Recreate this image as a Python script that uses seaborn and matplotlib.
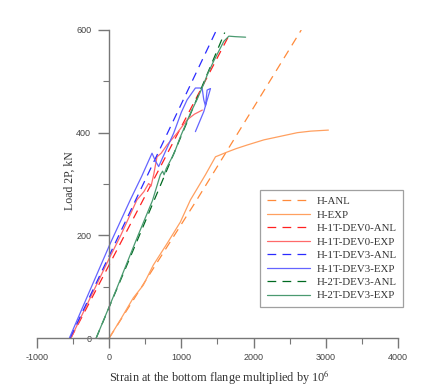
import matplotlib
matplotlib.use("Agg")
import matplotlib.pyplot as plt
import seaborn as sns
import pandas as pd
from matplotlib.ticker import MultipleLocator

# ---- data ----
h_anl_x = [0, 1200, 2660]
h_anl_y = [0, 266, 600]

h_exp_x = [0, 153, 333, 472, 611, 806, 986, 1125, 1333, 1472, 1560, 1611, 1760, 1912, 2143, 2375, 2606, 2792, 3036]
h_exp_y = [0, 35, 78, 103, 142, 185, 226, 269, 318, 353, 358, 361, 369, 376, 386, 393, 400, 403, 405]

dev0_anl_x = [-530, 1680]
dev0_anl_y = [0, 595]

dev0_exp_x = [-530, 0, 160, 384, 480, 546, 580, 616, 662, 720, 801, 940, 1079, 1180, 1290]
dev0_exp_y = [0, 155, 200, 269, 285, 301, 296, 318, 353, 360, 376, 399, 425, 436, 444]

dev3_anl_x = [-542, 1486]
dev3_anl_y = [0, 600]

dev3_exp_x = [-551, -300, 14, 292, 450, 593, 640, 685, 800, 893, 1000, 1079, 1194, 1287, 1310, 1333, 1356, 1403, 1310, 1194]
dev3_exp_y = [0, 82, 184, 269, 315, 360, 345, 334, 370, 399, 440, 464, 487, 487, 464, 452, 483, 486, 441, 402]

t2_anl_x = [-180, 1600]
t2_anl_y = [0, 595]

t2_exp_x = [-180, 100, 400, 600, 708, 740, 760, 790, 900, 986, 1125, 1218, 1310, 1356, 1449, 1588, 1657, 1750, 1889]
t2_exp_y = [0, 95, 200, 268, 318, 325, 318, 330, 360, 392, 438, 465, 495, 512, 540, 578, 588, 587, 586]

labels = ["H-ANL", "H-EXP", "H-1T-DEV0-ANL", "H-1T-DEV0-EXP",
          "H-1T-DEV3-ANL", "H-1T-DEV3-EXP", "H-2T-DEV3-ANL", "H-2T-DEV3-EXP"]
series = [(h_anl_x, h_anl_y), (h_exp_x, h_exp_y), (dev0_anl_x, dev0_anl_y), (dev0_exp_x, dev0_exp_y),
          (dev3_anl_x, dev3_anl_y), (dev3_exp_x, dev3_exp_y), (t2_anl_x, t2_anl_y), (t2_exp_x, t2_exp_y)]
colors = ["#ff8a3a", "#ffa060", "#ff2020", "#ff6a6a", "#2a2aff", "#6464ff", "#006a20", "#4a9a70"]
dashed = [True, False, True, False, True, False, True, False]

sns.set_style("white")
plt.rcParams["font.family"] = ["Liberation Serif", "DejaVu Serif"]
plt.rcParams["mathtext.fontset"] = "stix"
plt.rcParams["axes.unicode_minus"] = False

fig = plt.figure(figsize=(4.21, 3.88), dpi=100)
ax = fig.add_axes([37 / 421, 1 - 338 / 388, (398 - 37) / 421, (338 - 30) / 388])

for (xs, ys), lab, c, d in zip(series, labels, colors, dashed):
    df = pd.DataFrame({"x": xs, "y": ys})
    sns.lineplot(data=df, x="x", y="y", sort=False, estimator=None, ax=ax,
                 color=c, linewidth=0.9, label=lab, legend=False)
    if d:
        ax.lines[-1].set_dashes((7, 5))

ax.set_xlim(-1000, 4000)
ax.set_ylim(0, 600)

for s in ["top", "right"]:
    ax.spines[s].set_visible(False)
ax.spines["left"].set_position(("data", 0))
ax.spines["left"].set_color("#777777")
ax.spines["bottom"].set_color("#777777")
ax.spines["left"].set_linewidth(1.0)
ax.spines["bottom"].set_linewidth(1.0)

ax.xaxis.set_major_locator(MultipleLocator(1000))
ax.xaxis.set_minor_locator(MultipleLocator(500))
ax.yaxis.set_major_locator(MultipleLocator(200))
ax.yaxis.set_minor_locator(MultipleLocator(100))
ax.tick_params(which="both", bottom=True, left=True, top=False, right=False)
ax.tick_params(axis="x", which="major", direction="out", length=7.5, width=1.0, color="#777777",
               labelsize=6.5, labelcolor="#444444", pad=3)
ax.tick_params(axis="x", which="minor", direction="out", length=4, width=0.8, color="#777777")
ax.tick_params(axis="y", which="major", direction="out", length=8, width=1.0, color="#777777",
               labelsize=6.5, labelcolor="#444444", pad=5)
ax.tick_params(axis="y", which="minor", direction="out", length=4, width=0.8, color="#777777")
for t in ax.get_xticklabels() + ax.get_yticklabels():
    t.set_family(["Liberation Sans", "DejaVu Sans"])

ax.set_xlabel("")
ax.set_ylabel("")
fig.text(219 / 421, 1 - 377 / 388, "Strain at the bottom flange multiplied by 10$^{6}$", fontsize=8.8,
         color="#333333", ha="center", va="center")
fig.text(70 / 421, 1 - 181 / 388, "Load 2P, kN", rotation=90, fontsize=8.5, color="#333333",
         ha="center", va="center")

leg = ax.legend(loc="upper left", bbox_to_anchor=(260 / 421, 1 - 190 / 388), bbox_transform=fig.transFigure,
                borderaxespad=0, fontsize=7.8, frameon=True, fancybox=False, edgecolor="#888888",
                handlelength=4.0, handletextpad=0.6, labelspacing=0.36, borderpad=0.6)
leg.get_frame().set_linewidth(0.9)
for t in leg.get_texts():
    t.set_color("#333333")

fig.savefig("out.png", dpi=100)
